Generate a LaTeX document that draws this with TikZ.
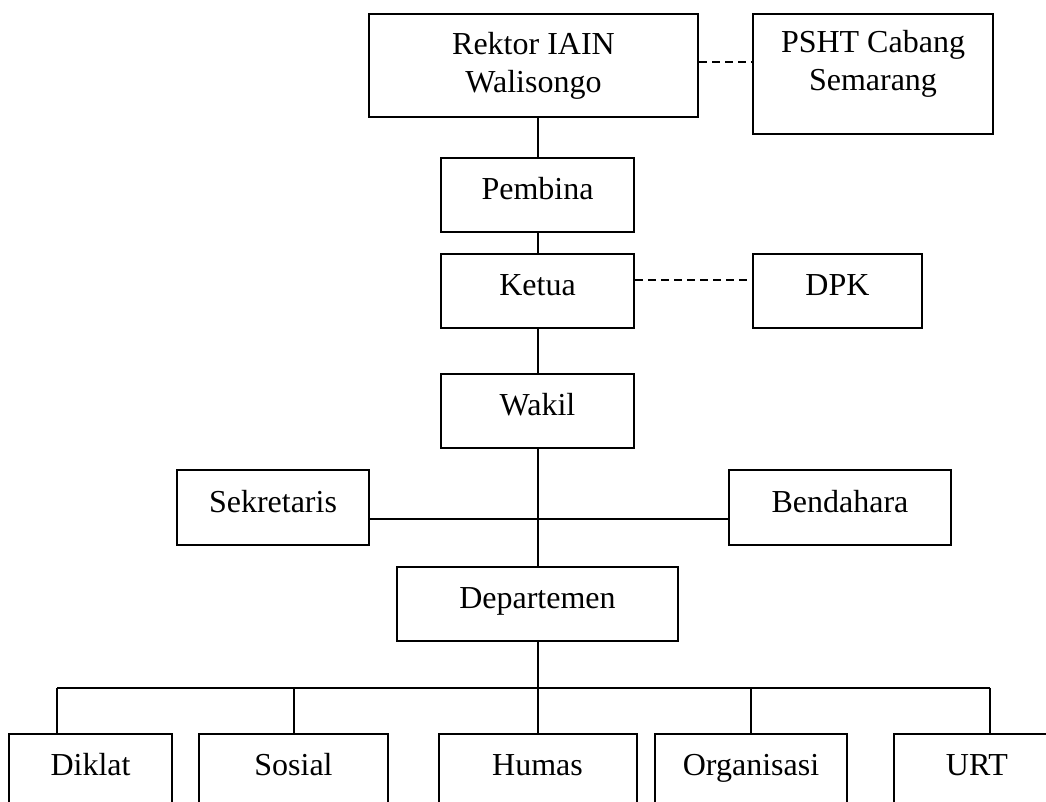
\documentclass[tikz,border=0pt]{standalone}
\usepackage{fontspec}
\setmainfont{Liberation Serif}
\usepackage{tikz}
\usetikzlibrary{calc}

\tikzset{
    kotak/.style = {draw, line width=1pt, inner sep=0pt, align=center,
                    font=\fontsize{16}{19}\selectfont},
    satu/.style  = {text height=11pt, text depth=6pt},
    garis/.style = {line width=1pt},
    putus/.style = {line width=1pt, dash pattern=on 4pt off 2.5pt}
}

\begin{document}
\begin{tikzpicture}[x=0.5pt, y=-0.5pt]
    % Bingkai
    \useasboundingbox (0,0) rectangle (1046,802);
    \clip (0,0) rectangle (1046,802);
    % Pimpinan
    \node[kotak, minimum width=164.5pt, minimum height=51.5pt] (rektor) at (533.5,65.5) {Rektor IAIN\\Walisongo};
    \node[kotak, minimum width=120pt, minimum height=60pt] (psht) at (873,74) {};
    \node[font=\fontsize{16}{19}\selectfont, align=center] (pshtteks) at (873,64) {PSHT Cabang\\Semarang};
    \node[kotak, satu, minimum width=96.5pt, minimum height=37pt] (pembina) at (537.5,195) {Pembina};
    \node[kotak, satu, minimum width=96.5pt, minimum height=37pt] (ketua) at (537.5,291) {Ketua};
    \node[kotak, satu, minimum width=84.5pt, minimum height=37pt] (dpk) at (837.5,291) {DPK};
    \node[kotak, satu, minimum width=96.5pt, minimum height=37pt] (wakil) at (537.5,411) {Wakil};
    \node[kotak, satu, minimum width=96pt, minimum height=37.5pt] (sekretaris) at (273,507.5) {Sekretaris};
    \node[kotak, satu, minimum width=111pt, minimum height=37.5pt] (bendahara) at (840,507.5) {Bendahara};
    \node[kotak, satu, minimum width=140.5pt, minimum height=37pt] (departemen) at (537.5,604) {Departemen};
    % Departemen bawah
    \node[kotak, satu, minimum width=81.5pt, minimum height=37pt] (diklat) at (90.5,771) {Diklat};
    \node[kotak, satu, minimum width=94.5pt, minimum height=37pt] (sosial) at (293.5,771) {Sosial};
    \node[kotak, satu, minimum width=99pt, minimum height=37pt] (humas) at (537.5,771) {Humas};
    \node[kotak, satu, minimum width=96pt, minimum height=37pt] (organisasi) at (751,771) {Organisasi};
    \node[kotak, satu, minimum width=83pt, minimum height=37pt] (urt) at (977,771) {URT};
    % Garis komando
    \draw[garis] (pembina.north |- rektor.south) -- (pembina.north);
    \draw[garis] (pembina) -- (ketua);
    \draw[garis] (ketua) -- (wakil);
    \draw[garis] (wakil) -- (departemen);
    \draw[garis] ([yshift=-5.75pt]sekretaris.east) -- ([yshift=-5.75pt]bendahara.west);
    % Garis koordinasi
    \draw[putus] (rektor.east |- 0,62) -- (psht.west |- 0,62);
    \draw[putus] ([yshift=5.5pt]ketua.east) -- ([yshift=5.5pt]dpk.west);
    % Garis ke bidang
    \coordinate (buskiri) at (57,688);
    \coordinate (buskanan) at (990,688);
    \draw[garis] (buskiri) -- (buskanan);
    \draw[garis] (departemen) -- (humas);
    \draw[garis] (buskiri) -- (buskiri |- diklat.north);
    \draw[garis] (sosial.north |- buskiri) -- (sosial.north);
    \draw[garis] (organisasi.north |- buskiri) -- (organisasi.north);
    \draw[garis] (buskanan) -- (buskanan |- urt.north);
\end{tikzpicture}
\end{document}
